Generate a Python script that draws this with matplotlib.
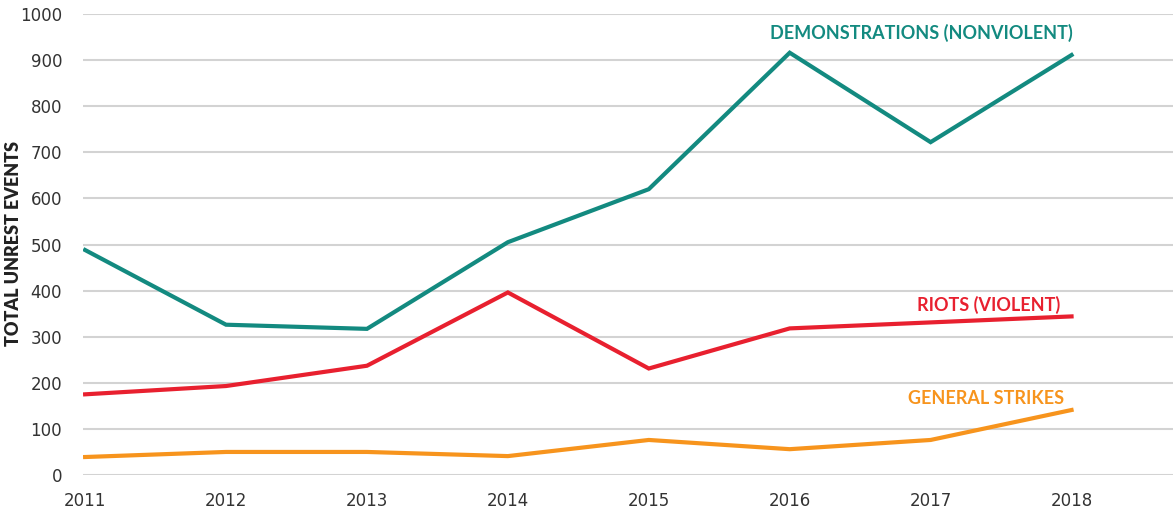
import matplotlib.pyplot as plt

years = [2011, 2012, 2013, 2014, 2015, 2016, 2017, 2018]
demonstrations = [488, 326, 317, 505, 620, 916, 722, 911]
riots = [175, 193, 237, 396, 231, 318, 331, 344]
strikes = [39, 50, 50, 41, 76, 56, 76, 141]

teal = '#138a80'
red = '#e8202f'
orange = '#f7941d'
grey = '#333333'

plt.rcParams['font.family'] = ['Lato', 'DejaVu Sans']

fig = plt.figure(figsize=(11.73, 5.08), dpi=100)
ax = fig.add_axes([83 / 1173, (508 - 475) / 508, 1 - 83 / 1173, (475 - 14) / 508])

ax.plot(years, demonstrations, color=teal, lw=3, solid_joinstyle='miter')
ax.plot(years, riots, color=red, lw=3, solid_joinstyle='miter')
ax.plot(years, strikes, color=orange, lw=3, solid_joinstyle='miter')

ax.set_xlim(2010.985, 2018.72)
ax.set_ylim(0, 1000)
ax.set_yticks(range(0, 1001, 100))
ax.set_xticks(years)
ax.grid(axis='y', color='#d3d3d3', lw=1.5)
ax.set_axisbelow(True)
for s in ax.spines.values():
    s.set_visible(False)
ax.tick_params(length=0, labelsize=12, colors=grey)
ax.tick_params(axis='y', pad=15)
ax.tick_params(axis='x', pad=12)
for lab in ax.get_xticklabels() + ax.get_yticklabels():
    lab.set_family('DejaVu Sans')

fig.text(14 / 1173, (508 - 244) / 508, 'TOTAL UNREST EVENTS', rotation=90,
         fontsize=13, fontweight='heavy', color='#222222', ha='center', va='center')

ax.text(2018.01, 959, 'DEMONSTRATIONS (NONVIOLENT)', color=teal, fontsize=13,
        fontweight='bold', ha='right', va='center')
ax.text(2017.92, 369, 'RIOTS (VIOLENT)', color=red, fontsize=13,
        fontweight='bold', ha='right', va='center')
ax.text(2017.95, 167, 'GENERAL STRIKES', color=orange, fontsize=13,
        fontweight='bold', ha='right', va='center')

fig.savefig('out.png', dpi=100)
